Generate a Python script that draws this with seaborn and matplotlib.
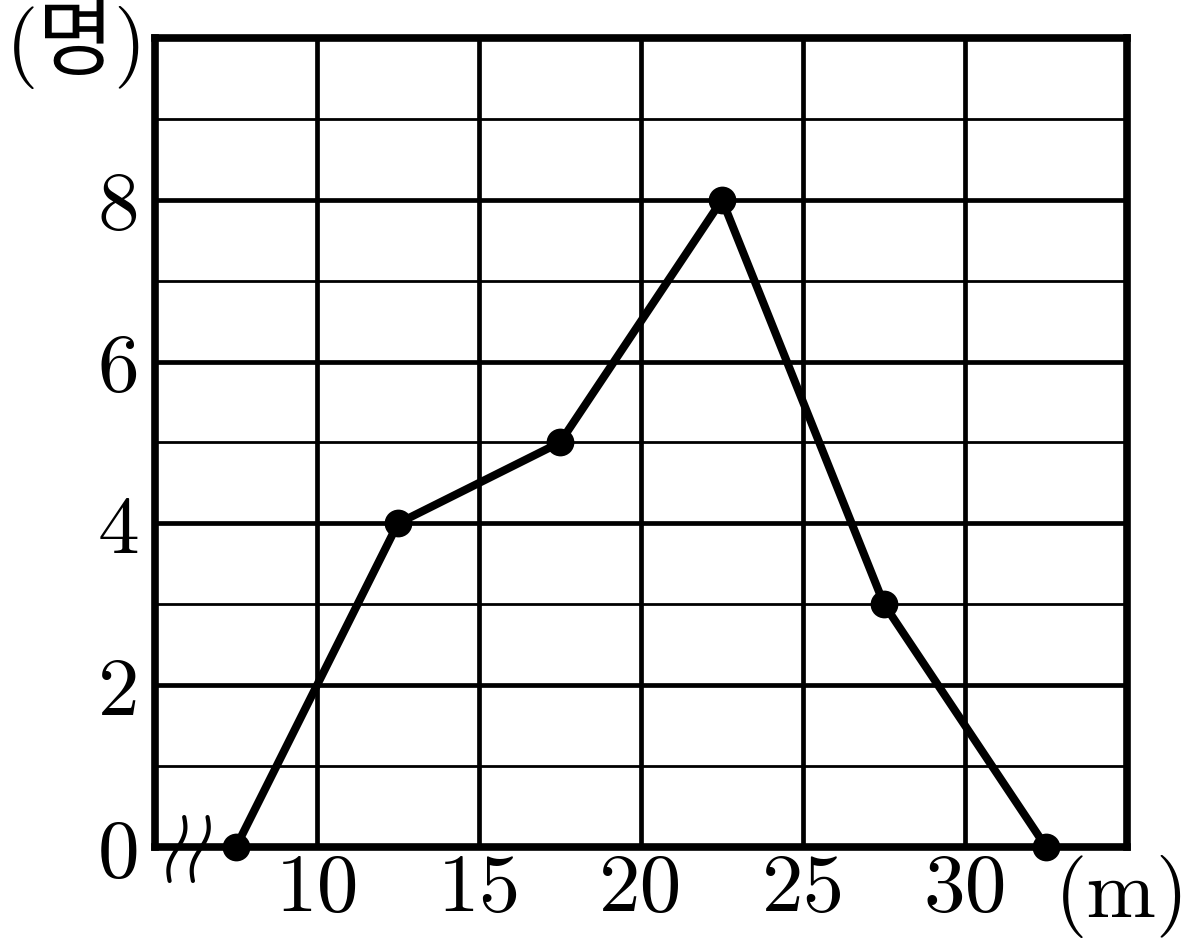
# plot.py - frequency polygon (도수분포다각형)

import numpy as np
import matplotlib
matplotlib.use('Agg')
import matplotlib.pyplot as plt
import seaborn as sns

# Data
classMid = [7.5, 12.5, 17.5, 22.5, 27.5, 32.5]
counts = [0, 4, 5, 8, 3, 0]
xTicks = [10, 15, 20, 25, 30]
yTicks = [0, 2, 4, 6, 8]
yMinor = [1, 3, 5, 7, 9]

sns.set_style('white')
plt.rcParams['font.family'] = ['cmr10', 'Noto Sans CJK KR', 'DejaVu Sans']
plt.rcParams['axes.formatter.use_mathtext'] = True
plt.rcParams['text.color'] = 'black'
plt.rcParams['xtick.color'] = 'black'
plt.rcParams['ytick.color'] = 'black'
plt.rcParams['xtick.labelcolor'] = 'black'
plt.rcParams['ytick.labelcolor'] = 'black'

fs = 60

fig = plt.figure(figsize=(11.98, 9.53), dpi=100)
ax = fig.add_axes([0.1294, 0.1102, 0.8114, 0.8489])

ax.set_xlim(5, 35)
ax.set_ylim(0, 10)

# Grid
ax.set_xticks(xTicks)
ax.set_yticks(yTicks)
ax.set_yticks(yMinor, minor=True)
ax.grid(which='major', axis='x', color='black', linewidth=3.4)
ax.grid(which='major', axis='y', color='black', linewidth=3.4)
ax.grid(which='minor', axis='y', color='black', linewidth=2.0)
ax.set_axisbelow(True)

# Polygon
sns.lineplot(x=classMid, y=counts, ax=ax, color='black', linewidth=5.8,
             marker='o', markersize=20, markeredgewidth=0, clip_on=False, zorder=5)

# Frame
for s in ax.spines.values():
    s.set_visible(True)
    s.set_color('black')
    s.set_linewidth(5.5)

ax.tick_params(which='both', length=0)
ax.tick_params(axis='x', pad=4, labelsize=fs)
ax.tick_params(axis='y', pad=11, labelsize=fs)
ax.set_xticklabels([str(t) for t in xTicks])
ax.set_yticklabels([str(t) for t in yTicks])
ax.set_xlabel('')
ax.set_ylabel('')

# Units
ax.text(-0.008, 0.994, '(명)', transform=ax.transAxes, ha='right', va='center',
        fontsize=fs, color='black', family=['cmr10', 'Noto Sans CJK KR'])
ax.text(0.995, -0.06, '(m)', transform=ax.transAxes, ha='center', va='center',
        fontsize=fs, color='black')

# Axis break mark
t = np.linspace(0, 1, 40)
for dx in [0.0, 0.72]:
    xs = 5.9 + dx - 0.45 * t + 0.13 * np.sin(2 * np.pi * t)
    ys = 0.37 - 0.79 * t
    ax.plot(xs, ys, color='black', linewidth=3.0, clip_on=False, zorder=6)

fig.savefig('out.png', dpi=100)
